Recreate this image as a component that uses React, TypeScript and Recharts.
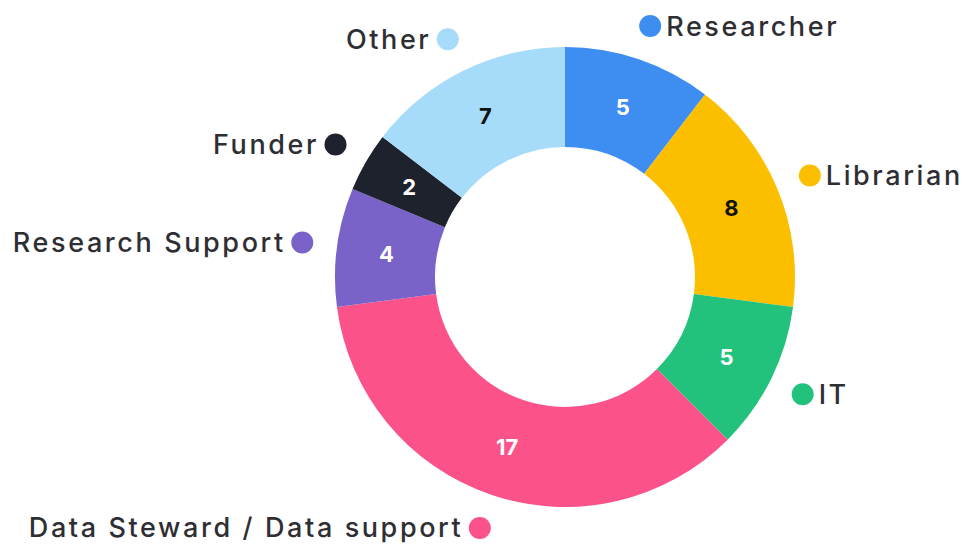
import React from "react";
import { PieChart, Pie, Cell } from "recharts";

const categories = [
  "Researcher",
  "Librarian",
  "IT",
  "Data Steward / Data support",
  "Research Support",
  "Funder",
  "Other",
];
const counts = [5, 8, 5, 17, 4, 2, 7];
const colors = ["#3d8ef0", "#fbbf00", "#22c17c", "#fa5289", "#7a63c8", "#1e222c", "#a6dbfa"];
const valueColors = ["#ffffff", "#111111", "#ffffff", "#ffffff", "#ffffff", "#ffffff", "#111111"];

const data = categories.map((name, i) => ({ name, value: counts[i] }));

const RAD = Math.PI / 180;
const FONT = "Inter, 'Noto Sans', sans-serif";
const LS = 2.6;

const renderLabel = (props: any) => {
  const { cx, cy, midAngle, innerRadius, outerRadius, index, value } = props;
  const midR = (innerRadius + outerRadius) / 2;
  const vx = cx + midR * Math.cos(-midAngle * RAD);
  const vy = cy + midR * Math.sin(-midAngle * RAD);
  const dotR = outerRadius + 35;
  const dx = cx + dotR * Math.cos(-midAngle * RAD);
  const dy = cy + dotR * Math.sin(-midAngle * RAD);
  const right = dx > cx;
  return (
    <g>
      <text
        x={vx}
        y={vy}
        fill={valueColors[index]}
        textAnchor="middle"
        dominantBaseline="central"
        fontFamily={FONT}
        fontWeight={700}
        fontSize={22}
      >
        {value}
      </text>
      <circle cx={dx} cy={dy} r={11} fill={colors[index]} />
      <text
        x={right ? dx + 16 : dx - 19 + LS}
        y={dy}
        fill="#2e2e33"
        textAnchor={right ? "start" : "end"}
        dominantBaseline="central"
        fontFamily={FONT}
        fontWeight={500}
        fontSize={27}
        letterSpacing={LS}
      >
        {categories[index]}
      </text>
    </g>
  );
};

export default function App() {
  return (
    <PieChart width={962} height={538} margin={{ top: 0, right: 0, bottom: 0, left: 0 }}>
      <Pie
        data={data}
        dataKey="value"
        nameKey="name"
        cx={557}
        cy={269}
        innerRadius={130}
        outerRadius={230}
        startAngle={90}
        endAngle={-270}
        stroke="none"
        label={renderLabel}
        labelLine={false}
        isAnimationActive={false}
      >
        {data.map((d, i) => (
          <Cell key={d.name} fill={colors[i]} />
        ))}
      </Pie>
    </PieChart>
  );
}
